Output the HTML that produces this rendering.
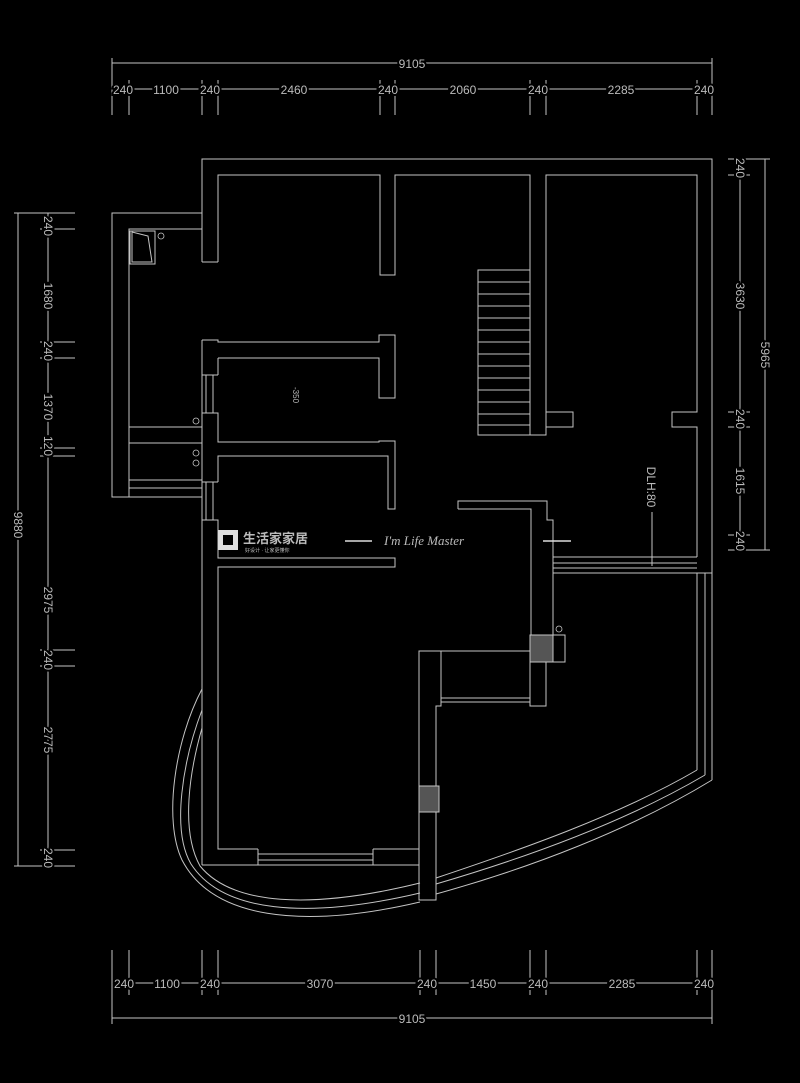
<!DOCTYPE html>
<html><head><meta charset="utf-8"><style>
html,body{margin:0;padding:0;background:#000;width:800px;height:1083px;overflow:hidden}
svg{display:block}
text{font-family:"Liberation Sans","Noto Sans CJK SC",sans-serif;fill:#bbb}
.d text{stroke:#000;stroke-width:4px;paint-order:stroke}
</style></head><body>
<svg width="800" height="1083" viewBox="0 0 800 1083" xmlns="http://www.w3.org/2000/svg">
<g stroke="#c4c4c4" stroke-width="1" fill="none">
<!-- top dims -->
<line x1="112" y1="63" x2="712" y2="63"/>
<line x1="112" y1="89" x2="712" y2="89"/>
<line x1="112" y1="58" x2="112" y2="115"/><line x1="712" y1="58" x2="712" y2="115"/>
<line x1="129" y1="80" x2="129" y2="115"/><line x1="202" y1="80" x2="202" y2="115"/><line x1="218" y1="80" x2="218" y2="115"/>
<line x1="380" y1="80" x2="380" y2="115"/><line x1="395" y1="80" x2="395" y2="115"/><line x1="530" y1="80" x2="530" y2="115"/>
<line x1="546" y1="80" x2="546" y2="115"/><line x1="697" y1="80" x2="697" y2="115"/>
<!-- bottom dims -->
<line x1="112" y1="983" x2="712" y2="983"/>
<line x1="112" y1="1018" x2="712" y2="1018"/>
<line x1="112" y1="950" x2="112" y2="1024"/><line x1="712" y1="950" x2="712" y2="1024"/>
<line x1="129" y1="950" x2="129" y2="995"/><line x1="202" y1="950" x2="202" y2="995"/><line x1="218" y1="950" x2="218" y2="995"/>
<line x1="420" y1="950" x2="420" y2="995"/><line x1="436" y1="950" x2="436" y2="995"/><line x1="530" y1="950" x2="530" y2="995"/>
<line x1="546" y1="950" x2="546" y2="995"/><line x1="697" y1="950" x2="697" y2="995"/>
<!-- left dims -->
<line x1="18" y1="213" x2="18" y2="866"/>
<line x1="48" y1="213" x2="48" y2="866"/>
<line x1="14" y1="213" x2="75" y2="213"/><line x1="14" y1="866" x2="75" y2="866"/>
<line x1="40" y1="229" x2="75" y2="229"/><line x1="40" y1="342" x2="75" y2="342"/><line x1="40" y1="358" x2="75" y2="358"/>
<line x1="40" y1="448" x2="75" y2="448"/><line x1="40" y1="456" x2="75" y2="456"/><line x1="40" y1="650" x2="75" y2="650"/>
<line x1="40" y1="666" x2="75" y2="666"/><line x1="40" y1="850" x2="75" y2="850"/>
<!-- right dims -->
<line x1="740" y1="159" x2="740" y2="550"/><line x1="765" y1="159" x2="765" y2="550"/>
<line x1="728" y1="159" x2="770" y2="159"/><line x1="728" y1="175" x2="750" y2="175"/>
<line x1="728" y1="412" x2="750" y2="412"/><line x1="728" y1="427" x2="750" y2="427"/>
<line x1="728" y1="535" x2="750" y2="535"/><line x1="728" y1="550" x2="770" y2="550"/>

<!-- outer walls -->
<polyline points="202,262 202,159 712,159 712,573"/>
<polyline points="218,262 218,175 380,175 380,275 395,275 395,175 530,175 530,435 546,435 546,175 697,175 697,412 672,412 672,427 697,427 697,557"/>
<line x1="202" y1="262" x2="218" y2="262"/>
<polyline points="546,412 573,412 573,427 546,427"/>
<!-- stairs -->
<polyline points="530,270 478,270 478,435 530,435"/>
<line x1="478" y1="282" x2="530" y2="282"/><line x1="478" y1="294" x2="530" y2="294"/><line x1="478" y1="306" x2="530" y2="306"/>
<line x1="478" y1="318" x2="530" y2="318"/><line x1="478" y1="330" x2="530" y2="330"/><line x1="478" y1="342" x2="530" y2="342"/>
<line x1="478" y1="354" x2="530" y2="354"/><line x1="478" y1="366" x2="530" y2="366"/><line x1="478" y1="378" x2="530" y2="378"/>
<line x1="478" y1="390" x2="530" y2="390"/><line x1="478" y1="402" x2="530" y2="402"/><line x1="478" y1="414" x2="530" y2="414"/>
<line x1="478" y1="425" x2="530" y2="425"/>
<!-- annex -->
<polyline points="202,213 112,213 112,497 202,497"/>
<polyline points="202,229 129,229 129,497"/>
<line x1="129" y1="427" x2="202" y2="427"/><line x1="129" y1="443" x2="202" y2="443"/>
<line x1="129" y1="480" x2="202" y2="480"/><line x1="129" y1="488" x2="202" y2="488"/>
<rect x="130" y="231" width="25" height="33"/>
<polygon points="132,232 148,236 152,262 132,262"/>
<!-- middle rooms -->
<polyline points="202,340 218,340 218,342 379,342 379,335 395,335 395,398 379,398 379,358 218,358"/>
<line x1="202" y1="340" x2="202" y2="865"/>
<line x1="218" y1="358" x2="218" y2="375"/>
<line x1="206" y1="375" x2="206" y2="413"/><line x1="213" y1="375" x2="213" y2="413"/>
<polyline points="202,375 218,375"/><polyline points="202,413 218,413 218,442 379,442 379,441 395,441 395,509 388,509 388,456 218,456 218,482"/>
<line x1="202" y1="482" x2="218" y2="482"/>
<line x1="206" y1="482" x2="206" y2="520"/><line x1="213" y1="482" x2="213" y2="520"/>
<polyline points="202,520 218,520 218,558 395,558 395,567 218,567 218,849 258,849"/>
<line x1="202" y1="865" x2="419" y2="865"/>
<polyline points="373,849 419,849"/>
<line x1="258" y1="849" x2="258" y2="865"/><line x1="373" y1="849" x2="373" y2="865"/>
<line x1="258" y1="854" x2="373" y2="854"/><line x1="258" y1="860" x2="373" y2="860"/>
<!-- center column -->
<polyline points="458,509 458,501 547,501 547,520 553,520 553,635 565,635 565,662 546,662 546,706 530,706 530,651 419,651 419,900 436,900 436,706 441,706 441,651"/>
<polyline points="458,509 531,509 531,635"/>
<line x1="441" y1="698" x2="530" y2="698"/><line x1="441" y1="702" x2="530" y2="702"/>
<rect x="530" y="635" width="23" height="27" fill="#555"/>
<rect x="419" y="786" width="20" height="26" fill="#555"/>
<!-- balcony line -->
<line x1="553" y1="557" x2="697" y2="557"/><line x1="553" y1="563" x2="697" y2="563"/>
<line x1="553" y1="568" x2="697" y2="568"/><line x1="553" y1="573" x2="712" y2="573"/>
<line x1="697" y1="573" x2="697" y2="770"/><line x1="705" y1="573" x2="705" y2="775"/><line x1="712" y1="573" x2="712" y2="780"/>
<!-- right curves -->
<path d="M697,770 C620,815 520,850 436,878"/>
<path d="M705,775 C625,822 525,858 436,884"/>
<path d="M712,780 C630,830 530,868 436,894"/>
<!-- left curves -->
<path d="M202,689 C175,740 163,820 182,860 C212,918 300,930 420,902"/>
<path d="M202,710 C183,760 171,830 191,864 C222,912 305,920 420,893"/>
<path d="M202,728 C190,770 180,830 200,866 C232,905 310,910 420,883"/>
<!-- DLH leader -->
<line x1="652" y1="512" x2="652" y2="566"/>
</g>
<g stroke="#c4c4c4" fill="none" stroke-width="0.8">
<circle cx="161" cy="236" r="3"/><circle cx="196" cy="421" r="3"/><circle cx="196" cy="453" r="3"/><circle cx="196" cy="463" r="3"/><circle cx="559" cy="629" r="3"/>
</g>
<g font-size="12" text-anchor="middle" class="d">
<text x="412" y="68">9105</text>
<text x="123" y="94">240</text><text x="166" y="94">1100</text><text x="210" y="94">240</text><text x="294" y="94">2460</text>
<text x="388" y="94">240</text><text x="463" y="94">2060</text><text x="538" y="94">240</text><text x="621" y="94">2285</text><text x="704" y="94">240</text>
<text x="124" y="988">240</text><text x="167" y="988">1100</text><text x="210" y="988">240</text><text x="320" y="988">3070</text>
<text x="427" y="988">240</text><text x="483" y="988">1450</text><text x="538" y="988">240</text><text x="622" y="988">2285</text><text x="704" y="988">240</text>
<text x="412" y="1023">9105</text>
<text transform="translate(14,525) rotate(90)">9880</text>
<text transform="translate(44,226) rotate(90)">240</text>
<text transform="translate(44,296) rotate(90)">1680</text>
<text transform="translate(44,351) rotate(90)">240</text>
<text transform="translate(44,407) rotate(90)">1370</text>
<text transform="translate(44,446) rotate(90)">120</text>
<text transform="translate(44,600) rotate(90)">2975</text>
<text transform="translate(44,660) rotate(90)">240</text>
<text transform="translate(44,740) rotate(90)">2775</text>
<text transform="translate(44,858) rotate(90)">240</text>
<text transform="translate(736,168) rotate(90)">240</text>
<text transform="translate(736,296) rotate(90)">3630</text>
<text transform="translate(736,419) rotate(90)">240</text>
<text transform="translate(736,481) rotate(90)">1615</text>
<text transform="translate(736,541) rotate(90)">240</text>
<text transform="translate(761,355) rotate(90)">5965</text>
<text transform="translate(647,487) rotate(90)">DLH:80</text>
</g>
<text transform="translate(293,395) rotate(90)" font-size="8" text-anchor="middle">-350</text>
<rect x="218" y="530" width="20" height="20" fill="#ddd"/>
<rect x="223" y="535" width="10" height="10" fill="#000"/>
<text x="243" y="543" font-size="13" fill="#ddd" style="font-weight:bold">生活家家居</text>
<text x="245" y="552" font-size="5" fill="#999">好设计 · 让家更懂你</text>
<line x1="345" y1="541" x2="372" y2="541" stroke="#ddd" stroke-width="1.5"/>
<text x="384" y="545" font-size="13" font-style="italic" fill="#ccc" style="font-family:'Liberation Serif',serif">I'm Life Master</text>
<line x1="543" y1="541" x2="571" y2="541" stroke="#ddd" stroke-width="1.5"/>
</svg>
</body></html>
